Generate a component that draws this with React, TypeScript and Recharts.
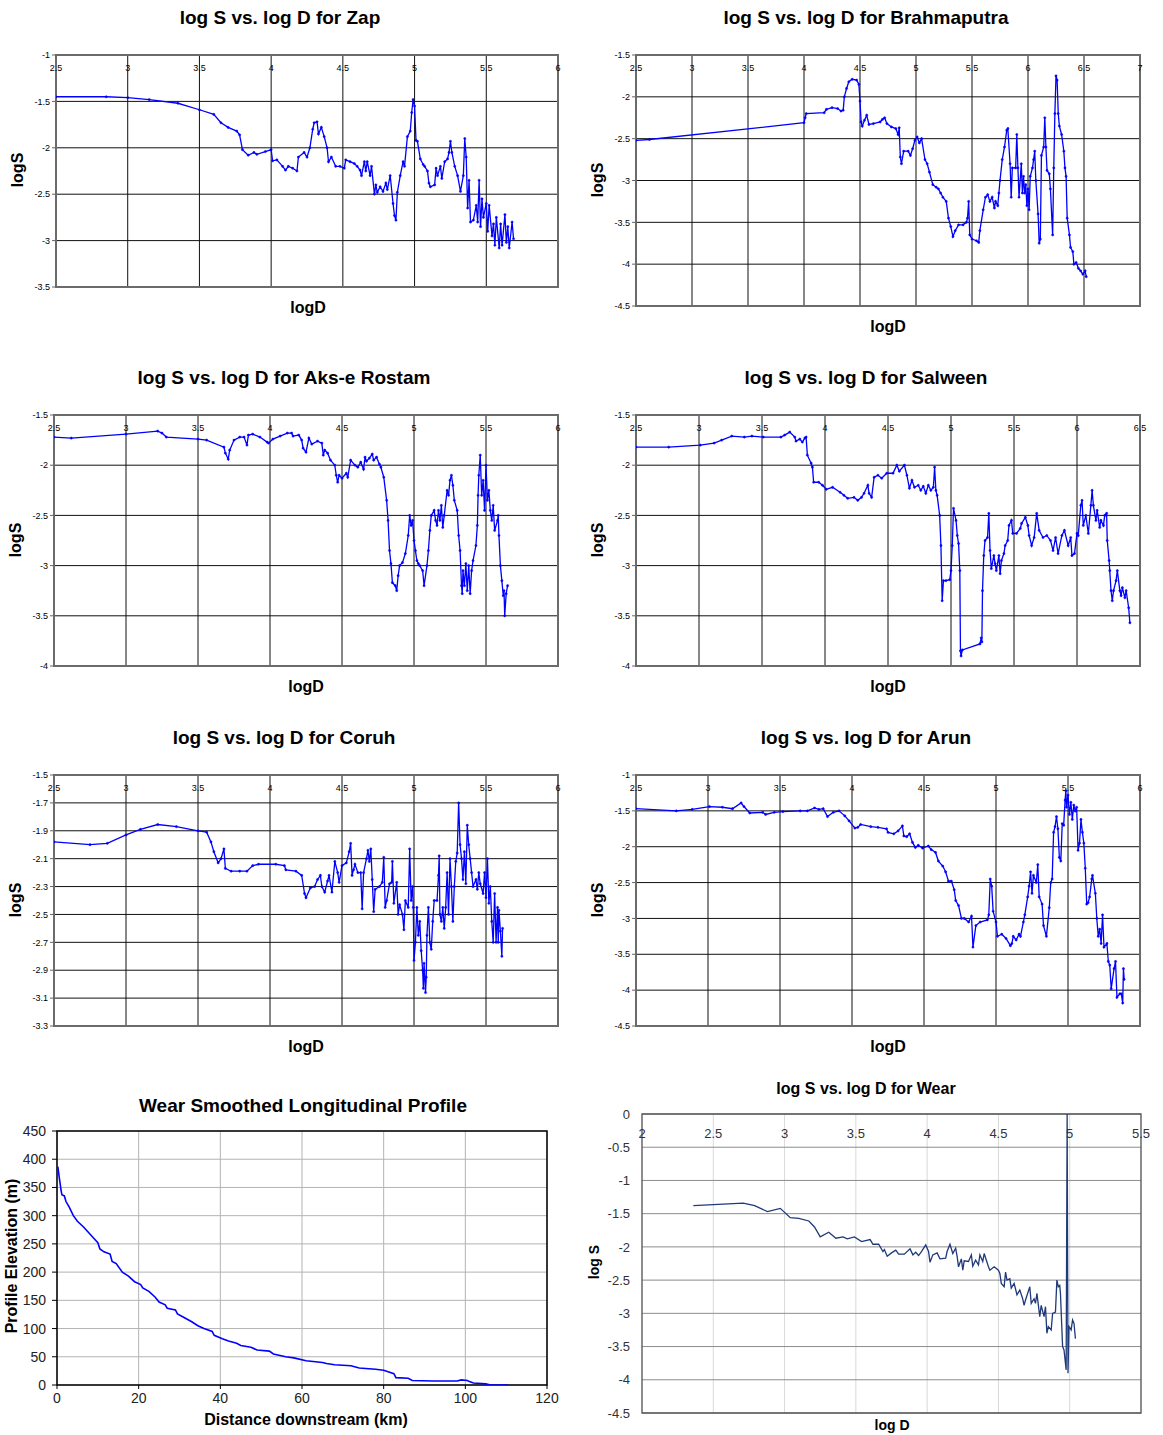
import React from "react"
import { LineChart, Line, XAxis, YAxis, CartesianGrid, ReferenceArea } from "recharts"

type Pt = [number, number]

const FONT = "'Liberation Sans', Arial, Helvetica, sans-serif"

// tick values
const logD25to6 = [2.5, 3, 3.5, 4, 4.5, 5, 5.5, 6]
const logD25to65 = [2.5, 3, 3.5, 4, 4.5, 5, 5.5, 6, 6.5]
const logD25to7 = [2.5, 3, 3.5, 4, 4.5, 5, 5.5, 6, 6.5, 7]
const logD2to55 = [2, 2.5, 3, 3.5, 4, 4.5, 5, 5.5]
const zapSTicks = [-3.5, -3, -2.5, -2, -1.5, -1]
const brahmaSTicks = [-4.5, -4, -3.5, -3, -2.5, -2, -1.5]
const aksSTicks = [-4, -3.5, -3, -2.5, -2, -1.5]
const salweenSTicks = [-4, -3.5, -3, -2.5, -2, -1.5]
const coruhSTicks = [-3.3, -3.1, -2.9, -2.7, -2.5, -2.3, -2.1, -1.9, -1.7, -1.5]
const arunSTicks = [-4.5, -4, -3.5, -3, -2.5, -2, -1.5, -1]
const wearSTicks = [-4.5, -4, -3.5, -3, -2.5, -2, -1.5, -1, -0.5, 0]
const distTicks = [0, 20, 40, 60, 80, 100, 120]
const elevTicks = [0, 50, 100, 150, 200, 250, 300, 350, 400, 450]

// [logD, logS]
const zap: Pt[] = [
  [2.5, -1.45], [2.85, -1.45], [3.0, -1.46], [3.15, -1.48], [3.35, -1.52], [3.5, -1.59], [3.6, -1.64], [3.65, -1.73], [3.7, -1.78], [3.76, -1.82],
  [3.78, -1.86], [3.8, -2.02], [3.84, -2.08], [3.88, -2.05], [3.9, -2.07], [3.96, -2.04], [4.0, -2.02], [4.01, -2.14], [4.04, -2.13], [4.08, -2.2],
  [4.1, -2.24], [4.12, -2.2], [4.15, -2.22], [4.18, -2.25], [4.19, -2.1], [4.23, -2.05], [4.25, -2.1], [4.27, -2.0], [4.29, -1.8], [4.3, -1.73],
  [4.32, -1.72], [4.33, -1.85], [4.35, -1.78], [4.37, -1.88], [4.39, -2.0], [4.4, -2.15], [4.42, -2.1], [4.45, -2.2], [4.48, -2.2], [4.51, -2.22],
  [4.52, -2.13], [4.55, -2.15], [4.58, -2.17], [4.6, -2.2], [4.62, -2.24], [4.63, -2.3], [4.65, -2.15], [4.66, -2.25], [4.67, -2.15], [4.69, -2.3],
  [4.7, -2.2], [4.72, -2.5], [4.73, -2.4], [4.74, -2.48], [4.76, -2.42], [4.78, -2.47], [4.8, -2.38], [4.81, -2.45], [4.83, -2.3], [4.85, -2.6],
  [4.86, -2.73], [4.87, -2.78], [4.88, -2.48], [4.9, -2.3], [4.92, -2.15], [4.93, -2.2], [4.95, -1.88], [4.97, -1.82], [4.98, -1.62], [4.99, -1.48],
  [5.0, -1.55], [5.01, -1.92], [5.02, -1.93], [5.04, -2.12], [5.06, -2.18], [5.07, -2.2], [5.09, -2.25], [5.1, -2.38], [5.11, -2.42], [5.14, -2.4],
  [5.15, -2.22], [5.16, -2.3], [5.18, -2.2], [5.19, -2.33], [5.21, -2.15], [5.23, -2.12], [5.24, -2.05], [5.25, -1.93], [5.26, -2.05], [5.28, -2.2],
  [5.3, -2.3], [5.32, -2.47], [5.34, -2.3], [5.35, -1.9], [5.36, -2.1], [5.37, -2.65], [5.38, -2.35], [5.39, -2.8], [5.41, -2.78], [5.43, -2.62],
  [5.44, -2.8], [5.45, -2.35], [5.46, -2.85], [5.47, -2.55], [5.48, -2.75], [5.5, -2.6], [5.51, -2.9], [5.52, -2.62], [5.54, -2.95], [5.55, -2.82],
  [5.56, -3.05], [5.57, -2.75], [5.59, -3.08], [5.6, -2.82], [5.61, -3.05], [5.63, -2.72], [5.64, -3.02], [5.65, -2.85], [5.66, -3.08], [5.68, -2.8],
  [5.69, -2.98],
]

const brahmaputra: Pt[] = [
  [2.5, -2.52], [2.62, -2.51], [4.0, -2.31], [4.01, -2.25], [4.02, -2.2], [4.18, -2.19], [4.2, -2.15], [4.25, -2.13], [4.3, -2.14], [4.33, -2.17],
  [4.35, -2.16], [4.36, -2.0], [4.38, -1.9], [4.4, -1.82], [4.43, -1.79], [4.47, -1.8], [4.49, -1.85], [4.5, -2.05], [4.51, -2.3], [4.52, -2.35],
  [4.54, -2.28], [4.56, -2.22], [4.58, -2.33], [4.62, -2.32], [4.68, -2.3], [4.7, -2.27], [4.72, -2.25], [4.74, -2.32], [4.78, -2.36], [4.82, -2.38],
  [4.84, -2.45], [4.85, -2.37], [4.86, -2.72], [4.87, -2.8], [4.89, -2.65], [4.93, -2.65], [4.95, -2.7], [4.97, -2.62], [4.99, -2.52], [5.01, -2.48],
  [5.03, -2.55], [5.05, -2.5], [5.08, -2.75], [5.1, -2.8], [5.12, -2.9], [5.15, -3.05], [5.18, -3.08], [5.2, -3.1], [5.22, -3.15], [5.24, -3.2],
  [5.27, -3.25], [5.29, -3.45], [5.31, -3.55], [5.33, -3.67], [5.35, -3.6], [5.38, -3.53], [5.42, -3.53], [5.45, -3.5], [5.46, -3.45], [5.47, -3.25],
  [5.48, -3.65], [5.5, -3.7], [5.54, -3.72], [5.56, -3.74], [5.57, -3.6], [5.6, -3.35], [5.62, -3.2], [5.64, -3.17], [5.66, -3.25], [5.68, -3.2],
  [5.7, -3.33], [5.71, -3.25], [5.73, -3.3], [5.74, -3.15], [5.75, -3.0], [5.77, -2.75], [5.79, -2.6], [5.81, -2.4], [5.82, -2.38], [5.84, -2.8],
  [5.85, -3.2], [5.86, -2.85], [5.89, -2.85], [5.9, -2.45], [5.91, -2.85], [5.92, -3.2], [5.94, -2.8], [5.95, -3.15], [5.96, -2.95], [5.97, -3.15],
  [5.98, -3.05], [5.99, -3.3], [6.0, -3.1], [6.01, -3.35], [6.02, -2.95], [6.04, -2.85], [6.05, -2.75], [6.06, -2.65], [6.07, -3.0], [6.09, -3.4],
  [6.1, -3.75], [6.11, -3.7], [6.12, -2.7], [6.14, -2.6], [6.15, -2.25], [6.16, -2.6], [6.17, -2.88], [6.19, -2.92], [6.2, -3.1], [6.22, -3.65],
  [6.23, -2.85], [6.24, -2.2], [6.25, -1.75], [6.26, -1.8], [6.27, -2.2], [6.28, -2.35], [6.3, -2.45], [6.32, -2.65], [6.33, -2.85], [6.34, -2.95],
  [6.35, -3.45], [6.37, -3.65], [6.38, -3.8], [6.4, -3.85], [6.41, -4.0], [6.43, -3.98], [6.45, -4.05], [6.47, -4.08], [6.49, -4.12], [6.51, -4.08],
  [6.52, -4.15],
]

const aksERostam: Pt[] = [
  [2.5, -1.72], [2.62, -1.73], [3.0, -1.69], [3.22, -1.66], [3.25, -1.68], [3.28, -1.72], [3.5, -1.74], [3.56, -1.75], [3.68, -1.82], [3.69, -1.88],
  [3.71, -1.94], [3.72, -1.85], [3.75, -1.75], [3.79, -1.72], [3.82, -1.72], [3.84, -1.8], [3.85, -1.7], [3.88, -1.69], [3.93, -1.72], [3.98, -1.77],
  [3.99, -1.78], [4.02, -1.74], [4.07, -1.71], [4.12, -1.68], [4.15, -1.68], [4.16, -1.71], [4.2, -1.7], [4.22, -1.75], [4.23, -1.83], [4.25, -1.87],
  [4.27, -1.73], [4.29, -1.79], [4.33, -1.76], [4.36, -1.78], [4.37, -1.9], [4.38, -1.85], [4.4, -1.88], [4.42, -1.95], [4.45, -2.0], [4.46, -2.1],
  [4.47, -2.17], [4.48, -2.1], [4.5, -2.13], [4.53, -2.08], [4.54, -2.12], [4.56, -1.95], [4.59, -2.0], [4.61, -2.02], [4.63, -1.97], [4.65, -2.04],
  [4.66, -1.92], [4.67, -1.96], [4.69, -1.93], [4.71, -1.89], [4.72, -1.95], [4.74, -1.92], [4.76, -1.99], [4.77, -2.02], [4.79, -2.12], [4.81, -2.35],
  [4.82, -2.55], [4.83, -2.85], [4.84, -2.98], [4.85, -3.17], [4.87, -3.2], [4.88, -3.25], [4.89, -3.1], [4.9, -3.0], [4.92, -2.97], [4.94, -2.88],
  [4.96, -2.7], [4.97, -2.5], [4.98, -2.6], [4.99, -2.55], [5.0, -2.75], [5.01, -2.85], [5.02, -2.95], [5.03, -2.98], [5.04, -3.0], [5.06, -3.05],
  [5.07, -3.2], [5.09, -3.0], [5.1, -2.85], [5.11, -2.65], [5.12, -2.5], [5.14, -2.45], [5.15, -2.55], [5.16, -2.6], [5.17, -2.45], [5.18, -2.55],
  [5.19, -2.4], [5.2, -2.62], [5.21, -2.5], [5.23, -2.25], [5.24, -2.3], [5.25, -2.15], [5.26, -2.1], [5.27, -2.2], [5.28, -2.35], [5.3, -2.45],
  [5.31, -2.7], [5.32, -2.85], [5.33, -3.2], [5.335, -3.28], [5.34, -3.05], [5.35, -3.2], [5.36, -2.98], [5.37, -3.25], [5.38, -3.0], [5.39, -3.28],
  [5.4, -3.05], [5.41, -2.95], [5.43, -2.8], [5.44, -2.6], [5.445, -2.3], [5.45, -2.1], [5.46, -1.9], [5.47, -2.3], [5.48, -2.15], [5.49, -2.45],
  [5.5, -2.0], [5.51, -2.35], [5.52, -2.25], [5.53, -2.45], [5.54, -2.55], [5.55, -2.4], [5.56, -2.65], [5.58, -2.55], [5.585, -2.5], [5.59, -2.7],
  [5.6, -3.0], [5.61, -3.15], [5.62, -3.3], [5.625, -3.25], [5.63, -3.5], [5.64, -3.28], [5.65, -3.2],
]

const salween: Pt[] = [
  [2.5, -1.82], [2.76, -1.82], [3.01, -1.8], [3.12, -1.78], [3.18, -1.75], [3.26, -1.71], [3.36, -1.72], [3.42, -1.71], [3.51, -1.72], [3.65, -1.72],
  [3.68, -1.7], [3.72, -1.67], [3.76, -1.72], [3.77, -1.76], [3.8, -1.74], [3.82, -1.77], [3.84, -1.73], [3.85, -1.72], [3.86, -1.9], [3.89, -1.98],
  [3.9, -2.02], [3.91, -2.17], [3.95, -2.17], [3.98, -2.2], [4.01, -2.24], [4.06, -2.22], [4.12, -2.27], [4.15, -2.3], [4.18, -2.33], [4.23, -2.32],
  [4.26, -2.35], [4.29, -2.32], [4.31, -2.28], [4.34, -2.2], [4.35, -2.28], [4.37, -2.32], [4.39, -2.12], [4.42, -2.1], [4.45, -2.13], [4.49, -2.08],
  [4.54, -2.08], [4.57, -2.0], [4.59, -2.06], [4.63, -2.0], [4.65, -2.1], [4.67, -2.23], [4.69, -2.15], [4.71, -2.22], [4.74, -2.2], [4.76, -2.25],
  [4.78, -2.21], [4.8, -2.28], [4.82, -2.2], [4.84, -2.25], [4.86, -2.22], [4.87, -2.02], [4.88, -2.25], [4.89, -2.3], [4.91, -2.5], [4.92, -2.8],
  [4.93, -3.35], [4.94, -3.15], [4.96, -3.15], [4.99, -3.14], [5.0, -3.05], [5.01, -2.8], [5.02, -2.43], [5.04, -2.55], [5.05, -2.7], [5.06, -2.78],
  [5.07, -3.05], [5.075, -3.85], [5.08, -3.9], [5.09, -3.84], [5.23, -3.78], [5.24, -3.72], [5.245, -3.76], [5.25, -3.25], [5.26, -2.9], [5.27, -2.75],
  [5.29, -2.72], [5.3, -2.48], [5.31, -2.85], [5.32, -3.03], [5.34, -2.9], [5.35, -2.98], [5.36, -3.05], [5.38, -2.9], [5.39, -3.08], [5.4, -2.95],
  [5.42, -2.88], [5.43, -2.8], [5.45, -2.75], [5.46, -2.6], [5.48, -2.55], [5.49, -2.68], [5.52, -2.68], [5.55, -2.63], [5.56, -2.58], [5.59, -2.52],
  [5.61, -2.6], [5.62, -2.7], [5.64, -2.8], [5.66, -2.72], [5.68, -2.48], [5.7, -2.65], [5.73, -2.72], [5.76, -2.7], [5.79, -2.75], [5.81, -2.85],
  [5.83, -2.72], [5.85, -2.88], [5.88, -2.7], [5.9, -2.65], [5.93, -2.8], [5.95, -2.72], [5.96, -2.9], [5.98, -2.88], [6.0, -2.68], [6.01, -2.7],
  [6.03, -2.4], [6.04, -2.35], [6.05, -2.6], [6.07, -2.5], [6.09, -2.68], [6.11, -2.4], [6.12, -2.25], [6.13, -2.4], [6.15, -2.55], [6.16, -2.45],
  [6.18, -2.62], [6.19, -2.55], [6.21, -2.6], [6.22, -2.5], [6.235, -2.48], [6.24, -2.75], [6.255, -2.95], [6.26, -3.05], [6.27, -3.25], [6.28, -3.35],
  [6.29, -3.25], [6.31, -3.15], [6.32, -3.05], [6.34, -3.25], [6.35, -3.3], [6.36, -3.22], [6.38, -3.32], [6.39, -3.25], [6.41, -3.42], [6.42, -3.57],
]

const coruh: Pt[] = [
  [2.5, -1.98], [2.75, -2.0], [2.87, -1.99], [3.0, -1.93], [3.1, -1.89], [3.22, -1.855], [3.35, -1.87], [3.5, -1.9], [3.56, -1.91], [3.59, -1.98],
  [3.61, -2.05], [3.64, -2.13], [3.66, -2.1], [3.68, -2.03], [3.69, -2.17], [3.73, -2.19], [3.79, -2.19], [3.84, -2.19], [3.88, -2.15], [3.92, -2.14],
  [4.04, -2.14], [4.1, -2.15], [4.11, -2.18], [4.18, -2.19], [4.22, -2.22], [4.24, -2.35], [4.25, -2.38], [4.28, -2.31], [4.31, -2.3], [4.33, -2.25],
  [4.35, -2.22], [4.36, -2.3], [4.38, -2.34], [4.4, -2.26], [4.41, -2.22], [4.43, -2.34], [4.45, -2.12], [4.47, -2.2], [4.48, -2.27], [4.5, -2.15],
  [4.53, -2.13], [4.55, -2.05], [4.56, -1.99], [4.57, -2.22], [4.58, -2.18], [4.59, -2.14], [4.61, -2.2], [4.63, -2.2], [4.64, -2.46], [4.65, -2.2],
  [4.67, -2.1], [4.68, -2.04], [4.69, -2.12], [4.7, -2.03], [4.71, -2.25], [4.72, -2.48], [4.73, -2.32], [4.76, -2.3], [4.78, -2.27], [4.79, -2.09],
  [4.8, -2.45], [4.81, -2.4], [4.83, -2.28], [4.845, -2.27], [4.85, -2.12], [4.86, -2.42], [4.88, -2.27], [4.89, -2.5], [4.9, -2.43], [4.92, -2.5],
  [4.93, -2.61], [4.94, -2.4], [4.96, -2.45], [4.97, -2.03], [4.98, -2.4], [4.99, -2.3], [4.995, -2.45], [5.0, -2.83], [5.01, -2.7], [5.02, -2.45],
  [5.03, -2.65], [5.04, -2.55], [5.05, -2.76], [5.06, -2.9], [5.065, -3.03], [5.07, -2.85], [5.08, -3.06], [5.085, -2.95], [5.09, -2.65], [5.1, -2.45],
  [5.11, -2.7], [5.12, -2.75], [5.13, -2.55], [5.14, -2.4], [5.16, -2.4], [5.17, -2.22], [5.175, -2.08], [5.18, -2.5], [5.19, -2.55], [5.2, -2.45],
  [5.21, -2.6], [5.22, -2.45], [5.23, -2.2], [5.24, -2.5], [5.25, -2.1], [5.26, -2.3], [5.27, -2.55], [5.28, -2.3], [5.29, -2.12], [5.3, -2.06],
  [5.31, -1.7], [5.32, -2.0], [5.33, -2.1], [5.34, -2.25], [5.35, -2.05], [5.36, -2.28], [5.37, -1.86], [5.38, -2.0], [5.39, -2.1], [5.4, -2.2],
  [5.41, -2.3], [5.43, -2.25], [5.44, -2.32], [5.45, -2.2], [5.46, -2.28], [5.48, -2.35], [5.49, -2.2], [5.5, -2.38], [5.51, -2.1], [5.52, -2.42],
  [5.53, -2.3], [5.54, -2.55], [5.55, -2.7], [5.56, -2.35], [5.57, -2.7], [5.58, -2.45], [5.585, -2.7], [5.59, -2.47], [5.6, -2.62], [5.61, -2.8],
  [5.615, -2.6],
]

const arun: Pt[] = [
  [2.5, -1.47], [2.78, -1.5], [2.89, -1.48], [3.01, -1.44], [3.1, -1.45], [3.17, -1.47], [3.23, -1.39], [3.25, -1.44], [3.29, -1.53], [3.38, -1.52],
  [3.4, -1.55], [3.46, -1.52], [3.52, -1.51], [3.64, -1.5], [3.69, -1.5], [3.74, -1.46], [3.77, -1.48], [3.8, -1.47], [3.83, -1.58], [3.87, -1.52],
  [3.91, -1.5], [3.95, -1.57], [3.98, -1.64], [4.02, -1.74], [4.04, -1.73], [4.06, -1.69], [4.13, -1.72], [4.18, -1.73], [4.24, -1.75], [4.25, -1.8],
  [4.29, -1.82], [4.32, -1.78], [4.35, -1.71], [4.36, -1.85], [4.38, -1.86], [4.4, -1.82], [4.42, -1.94], [4.44, -2.01], [4.46, -1.98], [4.49, -2.02],
  [4.53, -1.99], [4.55, -2.04], [4.58, -2.08], [4.6, -2.2], [4.63, -2.27], [4.65, -2.35], [4.67, -2.48], [4.69, -2.48], [4.71, -2.6], [4.72, -2.75],
  [4.74, -2.82], [4.76, -3.0], [4.78, -3.0], [4.81, -3.05], [4.83, -2.97], [4.84, -3.4], [4.86, -3.1], [4.89, -3.05], [4.94, -3.02], [4.95, -2.95],
  [4.96, -2.45], [4.97, -2.55], [4.98, -2.9], [5.0, -3.05], [5.01, -3.25], [5.04, -3.22], [5.07, -3.28], [5.1, -3.38], [5.11, -3.35], [5.12, -3.25],
  [5.14, -3.3], [5.16, -3.22], [5.17, -3.25], [5.19, -3.05], [5.2, -2.95], [5.22, -2.7], [5.23, -2.55], [5.24, -2.35], [5.25, -2.65], [5.26, -2.4],
  [5.28, -2.5], [5.29, -2.25], [5.3, -2.7], [5.32, -2.8], [5.33, -3.1], [5.35, -3.25], [5.37, -2.85], [5.38, -2.5], [5.39, -2.45], [5.4, -1.8],
  [5.41, -1.72], [5.42, -1.58], [5.43, -1.75], [5.44, -2.15], [5.45, -2.2], [5.46, -1.68], [5.47, -1.7], [5.48, -1.35], [5.485, -1.22], [5.49, -1.45],
  [5.5, -1.28], [5.51, -1.55], [5.52, -1.38], [5.53, -1.62], [5.54, -1.42], [5.55, -1.5], [5.56, -1.45], [5.57, -2.05], [5.58, -1.95], [5.59, -1.62],
  [5.6, -1.8], [5.61, -1.95], [5.62, -2.3], [5.63, -2.8], [5.64, -2.78], [5.65, -2.7], [5.665, -2.45], [5.67, -2.4], [5.69, -2.65], [5.7, -3.0],
  [5.71, -3.25], [5.72, -3.15], [5.73, -3.35], [5.74, -2.95], [5.75, -3.4], [5.77, -3.35], [5.78, -3.6], [5.79, -3.65], [5.8, -3.98], [5.82, -3.7],
  [5.83, -3.6], [5.84, -4.1], [5.86, -4.05], [5.87, -4.05], [5.88, -4.18], [5.885, -3.7], [5.89, -3.85],
]

// [distance km, elevation m]
const wearProfile: Pt[] = [
  [0.2, 387], [0.6, 365], [1.0, 345], [1.2, 337], [1.8, 335], [2.2, 325], [3.0, 315], [4.0, 300], [5.0, 290], [6.5, 280],
  [8.0, 268], [9.0, 260], [10.0, 252], [10.5, 241], [11.5, 236], [13.0, 232], [13.5, 219], [14.5, 215], [16.0, 200], [17.5, 193],
  [19.0, 183], [20.5, 178], [21.0, 172], [22.5, 166], [24.0, 156], [25.0, 147], [26.5, 142], [27.0, 136], [29.0, 133], [29.5, 126],
  [31.0, 120], [33.0, 112], [34.5, 105], [36.0, 100], [38.0, 95], [38.5, 88], [40.5, 82], [42.0, 78], [44.0, 74], [45.0, 70],
  [47.5, 67], [49.0, 62], [52.0, 60], [53.0, 55], [56.0, 50], [58.0, 48], [61.0, 43], [65.0, 40], [66.0, 38], [68.0, 36],
  [72.0, 34], [74.0, 30], [78.0, 28], [80.0, 26], [82.5, 20], [83.0, 13], [86.0, 12], [87.0, 8], [92.0, 7], [98.0, 7],
  [99.0, 9], [100.5, 8], [101.0, 6], [102.0, 3.5], [105.0, 2], [106.0, 0.5], [110.5, 0],
]

const wearLog: Pt[] = [
  [2.36, -1.38], [2.71, -1.34], [2.79, -1.38], [2.88, -1.47], [2.97, -1.42], [3.04, -1.56], [3.1, -1.57], [3.17, -1.61], [3.21, -1.7], [3.25, -1.85],
  [3.31, -1.78], [3.36, -1.87], [3.41, -1.85], [3.44, -1.88], [3.49, -1.85], [3.54, -1.92], [3.6, -1.89], [3.62, -1.96], [3.66, -1.96], [3.69, -2.07],
  [3.7, -2.04], [3.72, -2.14], [3.75, -2.09], [3.78, -2.05], [3.8, -2.11], [3.84, -2.11], [3.88, -2.03], [3.9, -2.12], [3.92, -2.08], [3.94, -2.13],
  [3.96, -2.07], [3.99, -1.97], [4.01, -2.07], [4.02, -2.23], [4.04, -2.12], [4.07, -2.09], [4.09, -2.18], [4.13, -2.17], [4.14, -2.07], [4.16, -1.96],
  [4.18, -2.1], [4.2, -2.02], [4.21, -2.14], [4.22, -2.3], [4.24, -2.18], [4.25, -2.35], [4.26, -2.21], [4.29, -2.22], [4.31, -2.12], [4.32, -2.29],
  [4.34, -2.2], [4.36, -2.27], [4.37, -2.12], [4.39, -2.22], [4.4, -2.1], [4.43, -2.3], [4.44, -2.35], [4.47, -2.3], [4.5, -2.35], [4.51, -2.4],
  [4.52, -2.55], [4.54, -2.6], [4.55, -2.38], [4.56, -2.5], [4.58, -2.48], [4.59, -2.62], [4.61, -2.55], [4.63, -2.72], [4.65, -2.65], [4.67, -2.78],
  [4.68, -2.88], [4.69, -2.8], [4.72, -2.6], [4.73, -2.85], [4.75, -2.78], [4.76, -2.85], [4.77, -2.7], [4.79, -3.05], [4.8, -2.88], [4.82, -3.05],
  [4.83, -2.9], [4.84, -3.3], [4.85, -3.2], [4.87, -3.25], [4.88, -3.0], [4.9, -2.98], [4.91, -2.5], [4.92, -2.6], [4.93, -2.58], [4.935, -2.7],
  [4.95, -3.5], [4.96, -3.55], [4.975, -3.85], [4.982, 0], [4.988, -3.9], [4.995, -3.2], [5.01, -3.25], [5.02, -3.1], [5.03, -3.15], [5.04, -3.38],
]

type Box = { x: number; y: number; w: number; h: number }

const excelPanels = [
  { title: "log S vs. log D for Zap", pts: zap, xTicks: logD25to6, yTicks: zapSTicks, plot: { x: 56, y: 55, w: 502, h: 232 }, titleAt: [280, 18], yLabelAt: [18, 170], xLabelAt: [308, 308] },
  { title: "log S vs. log D for Brahmaputra", pts: brahmaputra, xTicks: logD25to7, yTicks: brahmaSTicks, plot: { x: 636, y: 55, w: 504, h: 251 }, titleAt: [866, 18], yLabelAt: [598, 180], xLabelAt: [888, 327] },
  { title: "log S vs. log D for Aks-e Rostam", pts: aksERostam, xTicks: logD25to6, yTicks: aksSTicks, plot: { x: 54, y: 415, w: 504, h: 251 }, titleAt: [284, 378], yLabelAt: [16, 540], xLabelAt: [306, 687] },
  { title: "log S vs. log D for Salween", pts: salween, xTicks: logD25to65, yTicks: salweenSTicks, plot: { x: 636, y: 415, w: 504, h: 251 }, titleAt: [866, 378], yLabelAt: [598, 540], xLabelAt: [888, 687] },
  { title: "log S vs. log D for Coruh", pts: coruh, xTicks: logD25to6, yTicks: coruhSTicks, plot: { x: 54, y: 775, w: 504, h: 251 }, titleAt: [284, 738], yLabelAt: [16, 900], xLabelAt: [306, 1047] },
  { title: "log S vs. log D for Arun", pts: arun, xTicks: logD25to6, yTicks: arunSTicks, plot: { x: 636, y: 775, w: 504, h: 251 }, titleAt: [866, 738], yLabelAt: [598, 900], xLabelAt: [888, 1047] },
]

const toRows = (pts: Pt[]) => pts.map(([x, y]) => ({ x, y }))
const ends = (t: number[]): [number, number] => [t[0], t[t.length - 1]]

function Caption({ text, cx, cy, size, rotate = false, weight = 700 }: { text: string; cx: number; cy: number; size: number; rotate?: boolean; weight?: number }) {
  return (
    <div
      style={{
        position: "absolute",
        left: cx - 250,
        top: cy - size,
        width: 500,
        height: size * 2,
        lineHeight: `${size * 2}px`,
        textAlign: "center",
        fontFamily: FONT,
        fontSize: size,
        fontWeight: weight,
        color: "#000",
        whiteSpace: "nowrap",
        transform: rotate ? "rotate(-90deg)" : undefined,
      }}
    >
      {text}
    </div>
  )
}

function ExcelPanel({ p }: { p: (typeof excelPanels)[number] }) {
  const plot: Box = p.plot
  const xd = ends(p.xTicks)
  const yd = ends(p.yTicks)
  return (
    <>
      <Caption text={p.title} cx={p.titleAt[0]} cy={p.titleAt[1]} size={19} />
      <Caption text="logS" cx={p.yLabelAt[0]} cy={p.yLabelAt[1]} size={16} rotate />
      <Caption text="logD" cx={p.xLabelAt[0]} cy={p.xLabelAt[1]} size={16} />
      <div style={{ position: "absolute", left: plot.x - 50, top: plot.y - 10 }}>
        <LineChart width={plot.w + 60} height={plot.h + 20} data={toRows(p.pts)} margin={{ top: 9, right: 10, bottom: 10, left: 0 }}>
          <CartesianGrid stroke="#111" strokeWidth={1} />
          <XAxis
            type="number"
            dataKey="x"
            orientation="top"
            domain={xd}
            ticks={p.xTicks}
            interval={0}
            height={1}
            tickSize={0}
            tickMargin={0}
            axisLine={false}
            allowDataOverflow
            tick={(t: any) => (
              <text x={t.x} y={t.y + 16} textAnchor="middle" fontSize={9} fontFamily={FONT} fill="#000">
                {t.payload.value}
              </text>
            )}
          />
          <YAxis
            type="number"
            domain={yd}
            ticks={p.yTicks}
            interval={0}
            width={50}
            tickSize={4}
            tickMargin={2}
            axisLine={false}
            tickLine={{ stroke: "#666" }}
            allowDataOverflow
            tick={{ fontSize: 9, fill: "#000", fontFamily: FONT }}
          />
          <ReferenceArea x1={xd[0]} x2={xd[1]} y1={yd[0]} y2={yd[1]} fill="none" stroke="#6b6b6b" strokeWidth={2} ifOverflow="visible" />
          <Line
            type="linear"
            dataKey="y"
            stroke="#0000ff"
            strokeWidth={1.3}
            dot={{ r: 1.1, fill: "#0000ff", stroke: "#0000ff", strokeWidth: 0.5 }}
            isAnimationActive={false}
          />
        </LineChart>
      </div>
    </>
  )
}

function WearProfile() {
  const plot: Box = { x: 57, y: 1131, w: 490, h: 254 }
  const xd = ends(distTicks)
  const yd = ends(elevTicks)
  return (
    <>
      <Caption text="Wear Smoothed Longitudinal Profile" cx={303} cy={1106} size={19} />
      <Caption text="Profile Elevation (m)" cx={12} cy={1256} size={16} rotate />
      <Caption text="Distance downstream (km)" cx={306} cy={1420} size={16} />
      <div style={{ position: "absolute", left: plot.x - 57, top: plot.y - 10 }}>
        <LineChart width={plot.w + 57 + 15} height={plot.h + 10 + 24} data={toRows(wearProfile)} margin={{ top: 10, right: 15, bottom: 0, left: 0 }}>
          <CartesianGrid stroke="#b3b3b3" strokeWidth={1} />
          <XAxis
            type="number"
            dataKey="x"
            domain={xd}
            ticks={distTicks}
            interval={0}
            height={24}
            tickSize={4}
            tickMargin={4}
            axisLine={false}
            tickLine={{ stroke: "#000" }}
            allowDataOverflow
            tick={{ fontSize: 14, fill: "#222", fontFamily: FONT }}
          />
          <YAxis
            type="number"
            domain={yd}
            ticks={elevTicks}
            interval={0}
            width={57}
            tickSize={5}
            tickMargin={6}
            axisLine={false}
            tickLine={{ stroke: "#000" }}
            allowDataOverflow
            tick={{ fontSize: 14, fill: "#222", fontFamily: FONT }}
          />
          <ReferenceArea x1={xd[0]} x2={xd[1]} y1={yd[0]} y2={yd[1]} fill="none" stroke="#000" strokeWidth={1.5} ifOverflow="visible" />
          <Line type="linear" dataKey="y" stroke="#0000ff" strokeWidth={1.6} dot={false} isAnimationActive={false} />
        </LineChart>
      </div>
    </>
  )
}

function WearLog() {
  const plot: Box = { x: 642, y: 1114, w: 499, h: 299 }
  const xd = ends(logD2to55)
  const yd = ends(wearSTicks)
  return (
    <>
      <Caption text="log S vs. log D for Wear" cx={866} cy={1089} size={16} />
      <Caption text="log S" cx={594} cy={1262} size={14} rotate />
      <Caption text="log D" cx={892} cy={1425} size={14} />
      <div style={{ position: "absolute", left: plot.x - 60, top: plot.y - 10 }}>
        <LineChart width={plot.w + 60 + 10} height={plot.h + 10 + 14} data={toRows(wearLog)} margin={{ top: 9, right: 10, bottom: 14, left: 0 }}>
          <CartesianGrid horizontal={false} stroke="#d9d9d9" strokeWidth={1} />
          <CartesianGrid vertical={false} stroke="#8c8c8c" strokeWidth={1} />
          <XAxis
            type="number"
            dataKey="x"
            orientation="top"
            domain={xd}
            ticks={logD2to55}
            interval={0}
            height={1}
            tickSize={0}
            tickMargin={0}
            axisLine={false}
            allowDataOverflow
            tick={(t: any) => (
              <text x={t.x} y={t.y + 24} textAnchor="middle" fontSize={13} fontFamily={FONT} fill="#333">
                {t.payload.value}
              </text>
            )}
          />
          <YAxis
            type="number"
            domain={yd}
            ticks={wearSTicks}
            interval={0}
            width={60}
            tickSize={0}
            tickMargin={12}
            axisLine={false}
            tickLine={false}
            allowDataOverflow
            tick={{ fontSize: 13, fill: "#333", fontFamily: FONT }}
          />
          <ReferenceArea x1={xd[0]} x2={xd[1]} y1={yd[0]} y2={yd[1]} fill="none" stroke="#595959" strokeWidth={1.3} ifOverflow="visible" />
          <Line type="linear" dataKey="y" stroke="#1f3a78" strokeWidth={1.3} dot={false} isAnimationActive={false} />
        </LineChart>
      </div>
    </>
  )
}

export default function App() {
  return (
    <div style={{ position: "absolute", left: 0, top: 0, width: 1163, height: 1435, background: "#fff", overflow: "hidden" }}>
      {excelPanels.map((p) => (
        <ExcelPanel key={p.title} p={p} />
      ))}
      <WearProfile />
      <WearLog />
    </div>
  )
}
